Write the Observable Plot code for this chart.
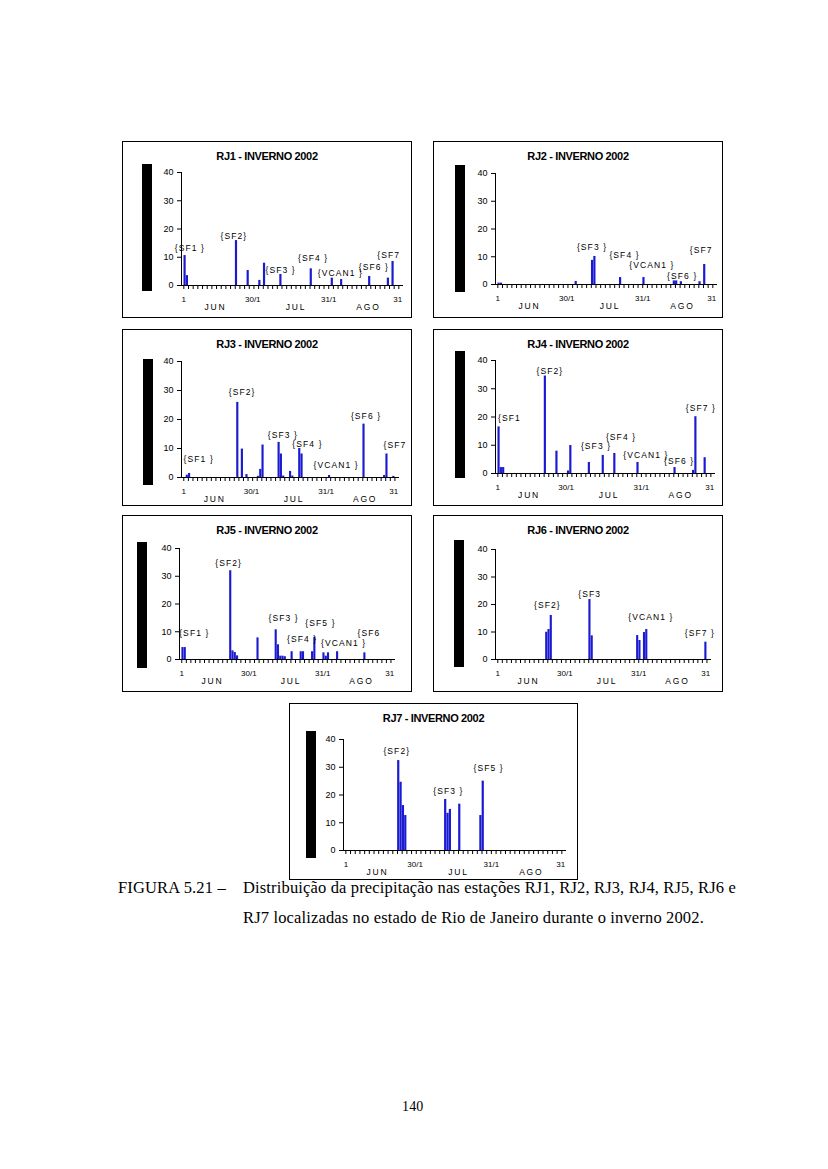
<!DOCTYPE html>
<html><head><meta charset="utf-8">
<script src="https://cdn.jsdelivr.net/npm/d3@7"></script>
<script src="https://cdn.jsdelivr.net/npm/@observablehq/plot@0.6"></script>
<style>
body{margin:0;background:#fff;width:828px;height:1169px;position:relative;overflow:hidden}
.box{position:absolute;border:1px solid #000;box-sizing:border-box}
.blk{position:absolute;background:#000}
.ttl{position:absolute;font:bold 11px "Liberation Sans",Arial,sans-serif;letter-spacing:-0.35px;white-space:nowrap;transform:translateX(-50%);line-height:11px}
.spaced{letter-spacing:1.1px}
.wide{letter-spacing:1.8px}
.cap{position:absolute;font:16.5px "Liberation Serif","DejaVu Serif",serif;letter-spacing:0.15px;white-space:nowrap;line-height:16.5px;color:#000}
</style>
</head><body>
<script>
// ---- data: daily precipitation (mm), day 1 = 1 Jun 2002 ... day 92 = 31 Aug 2002
const stations = ["RJ1","RJ2","RJ3","RJ4","RJ5","RJ6","RJ7"];

const rj1Day = [1,2,23,28,33,35,42,55,64,68,80,88,90];
const rj1Mm  = [10.6,3.5,15.9,5.3,1.8,7.9,3.9,5.9,2.6,2.1,3.2,2.6,8.5];
const rj1NoteText = ["{SF1 }","{SF2}","{SF3 }","{SF4 }","{VCAN1 }","{SF6 }","{SF7"];
const rj1NoteDay  = [3.6,22.4,42.4,56.3,68,82.3,88.7];
const rj1NoteMm   = [13.3,17.4,5.5,9.6,4.5,6.5,10.8];

const rj2Day = [1,2,34,41,42,53,63,76,77,79,87,89];
const rj2Mm  = [0.5,0.5,1.1,8.7,10.1,2.5,2.5,1.3,1.3,1.0,1.0,7.2];
const rj2NoteText = ["{SF3 }","{SF4 }","{VCAN1 }","{SF6 }","{SF7"];
const rj2NoteDay  = [41.3,55.2,66.9,79.9,88];
const rj2NoteMm   = [13.4,10.4,6.9,2.9,12.3];

const rj3Day = [2,3,24,26,28,33,34,35,42,43,44,47,48,51,52,64,79,88,89,92];
const rj3Mm  = [0.8,1.4,25.9,9.8,1.0,0.4,2.8,11.2,12.1,8.1,0.5,2.1,0.5,10.0,8.1,0.7,18.4,0.7,8.1,0.4];
const rj3NoteText = ["{SF1 }","{SF2}","{SF3 }","{SF4 }","{VCAN1 }","{SF6 }","{SF7"];
const rj3NoteDay  = [7.5,26.4,44.2,54.9,67.4,80.4,93];
const rj3NoteMm   = [6.3,29.4,14.4,11.4,4.3,21,11];

const rj4Day = [1,2,3,21,26,31,32,40,46,51,61,77,85,86,90];
const rj4Mm  = [16.5,2.1,2.1,34.5,7.9,0.9,9.9,3.9,6.4,7.1,3.9,2.1,1.1,20.1,5.6];
const rj4NoteText = ["{SF1","{SF2}","{SF3 }","{SF4 }","{VCAN1 }","{SF6 }","{SF7 }"];
const rj4NoteDay  = [6.0,23.5,43.4,54.2,64.9,79.3,88.7];
const rj4NoteMm   = [19.7,36.1,9.8,13,6.5,4.5,23];

const rj5Day = [1,2,22,23,24,25,34,42,43,44,45,46,49,53,54,58,59,63,64,65,69,81];
const rj5Mm  = [4.3,4.3,32.0,3.1,2.5,1.3,7.8,10.7,5.3,1.2,1.2,1.0,2.8,2.8,2.8,2.8,8.0,2.4,1.2,2.4,2.8,2.4];
const rj5NoteText = ["{SF1 }","{SF2}","{SF3 }","{SF4 }","{SF5 }","{VCAN1 }","{SF6"];
const rj5NoteDay  = [6.5,21.6,45.8,53.9,62,72.2,83.3];
const rj5NoteMm   = [9.5,34.8,14.7,7.4,12.9,5.9,9.5];

const rj6Day = [22,23,24,41,42,62,63,65,66,92];
const rj6Mm  = [9.9,10.9,16.0,21.8,8.6,8.7,6.9,9.8,10.9,6.3];
const rj6NoteText = ["{SF2}","{SF3","{VCAN1 }","{SF7 }"];
const rj6NoteDay  = [22.8,41.4,68.3,89.9];
const rj6NoteMm   = [19.6,23.6,15.4,9.7];

const rj7Day = [23,24,25,26,43,44,45,49,58,59];
const rj7Mm  = [32.4,24.6,16.2,12.6,18.4,13.4,14.8,16.7,12.6,25.0];
const rj7NoteText = ["{SF2}","{SF3 }","{SF5 }"];
const rj7NoteDay  = [22.7,44.7,61.8];
const rj7NoteMm   = [35.6,21.3,29.7];

// axis labels
const yTicks = [0,10,20,30,40];
const dayTickLabels = ["1","30/1","31/1","31"];
const dayTickPos = [1,30.5,63,92.5];
const monthLabels = ["JUN","JUL","AGO"];
const monthPos = [14.5,49,80];
const xTickDays = d3.range(1, 94, 2);

// ---- layout (page pixels)
const boxes = [
  {left:122, top:141, w:290, h:177, ax:181, ex:403, y40:172, y0:285, bl:20, bt:23, bh:127},
  {left:433, top:141, w:290, h:177, ax:495, ex:717, y40:173, y0:284, bl:22, bt:24, bh:127},
  {left:122, top:329, w:290, h:177, ax:181, ex:399, y40:361, y0:477, bl:21, bt:30, bh:126},
  {left:433, top:329, w:290, h:177, ax:495, ex:715, y40:360, y0:473, bl:22, bt:22, bh:127},
  {left:122, top:515, w:290, h:177, ax:179, ex:395, y40:548, y0:659, bl:15, bt:27, bh:126},
  {left:433, top:515, w:290, h:177, ax:495, ex:711, y40:549, y0:659, bl:21, bt:25, bh:127},
  {left:289, top:703, w:289, h:177, ax:343, ex:566, y40:739, y0:850, bl:17, bt:28, bh:127},
];
const seriesDay = [rj1Day,rj2Day,rj3Day,rj4Day,rj5Day,rj6Day,rj7Day];
const seriesMm = [rj1Mm,rj2Mm,rj3Mm,rj4Mm,rj5Mm,rj6Mm,rj7Mm];
const notesText = [rj1NoteText,rj2NoteText,rj3NoteText,rj4NoteText,rj5NoteText,rj6NoteText,rj7NoteText];
const notesDay = [rj1NoteDay,rj2NoteDay,rj3NoteDay,rj4NoteDay,rj5NoteDay,rj6NoteDay,rj7NoteDay];
const notesMm = [rj1NoteMm,rj2NoteMm,rj3NoteMm,rj4NoteMm,rj5NoteMm,rj6NoteMm,rj7NoteMm];

const BLUE = "#1a1ad0";
const FONT = '"Liberation Sans", Arial, sans-serif';

stations.forEach((name, i) => {
  const b = boxes[i];
  const bars = seriesDay[i].map((d, j) => ({day: d, mm: seriesMm[i][j]}));
  const notes = notesText[i].map((t, j) => ({text: t, day: notesDay[i][j], mm: notesMm[i][j]}));
  const dayLbl = dayTickLabels.map((t, j) => ({text: t, pos: dayTickPos[j]}));
  const monLbl = monthLabels.map((t, j) => ({text: t, pos: monthPos[j]}));

  const box = document.createElement("div");
  box.className = "box";
  Object.assign(box.style, {left: b.left + "px", top: b.top + "px", width: b.w + "px", height: b.h + "px"});
  document.body.appendChild(box);

  const blk = document.createElement("div");
  blk.className = "blk";
  Object.assign(blk.style, {left: (b.left + b.bl) + "px", top: (b.top + b.bt) + "px", width: "10px", height: b.bh + "px"});
  document.body.appendChild(blk);

  const ttl = document.createElement("div");
  ttl.className = "ttl";
  ttl.textContent = name + " - INVERNO 2002";
  Object.assign(ttl.style, {left: (b.left + b.w / 2) + "px", top: (b.top + 10) + "px"});
  document.body.appendChild(ttl);

  const chart = Plot.plot({
    width: b.w, height: b.h,
    marginLeft: b.ax - b.left,
    marginRight: b.left + b.w - b.ex,
    marginTop: b.y40 - b.top,
    marginBottom: b.top + b.h - b.y0,
    style: {background: "transparent", fontFamily: FONT, fontSize: "9px", color: "#000", overflow: "visible"},
    x: {domain: [0, 95], axis: null},
    y: {domain: [0, 40], axis: null},
    marks: [
      Plot.rect(bars, {x1: "day", x2: d => d.day + 1, y1: 0, y2: "mm", fill: BLUE, insetLeft: 0.15}),
      Plot.ruleY([0], {stroke: "#000", strokeWidth: 1}),
      Plot.ruleX([0], {y1: 0, y2: 40, stroke: "#000", strokeWidth: 1}),
      Plot.axisY({ticks: yTicks, tickSize: 4, tickPadding: 4, fontSize: 9, label: null, stroke: "#000"}),
      Plot.axisX({ticks: xTickDays, tickFormat: () => "", tickSize: 4, label: null, stroke: "#000"}),
      Plot.text(dayLbl, {x: "pos", y: 0, text: "text", dy: 14, fontSize: 8, fill: "#000"}),
      Plot.text(monLbl, {x: "pos", y: 0, text: "text", dy: 22, fontSize: 8.5, fill: "#000", className: "wide"}),
      Plot.text(notes, {x: "day", y: "mm", text: "text", fontSize: 8.5, fill: "#000", className: "spaced"})
    ]
  });
  Object.assign(chart.style, {position: "absolute", left: b.left + "px", top: b.top + "px"});
  document.body.appendChild(chart);
});

// caption and page number
const capLines = [
  {text: "FIGURA 5.21 \u2013", left: 118, top: 880},
  {text: "Distribui\u00e7\u00e3o da precipita\u00e7\u00e3o nas esta\u00e7\u00f5es RJ1, RJ2, RJ3, RJ4, RJ5, RJ6 e", left: 243, top: 880},
  {text: "RJ7 localizadas no estado de Rio de Janeiro durante o inverno 2002.", left: 243, top: 910},
  {text: "140", left: 402, top: 1099}
];
capLines.forEach(c => {
  const el = document.createElement("div");
  el.className = "cap";
  el.textContent = c.text;
  Object.assign(el.style, {left: c.left + "px", top: c.top + "px"});
  if (c.text === "140") el.style.fontSize = "14px";
  document.body.appendChild(el);
});
</script>
</body></html>
